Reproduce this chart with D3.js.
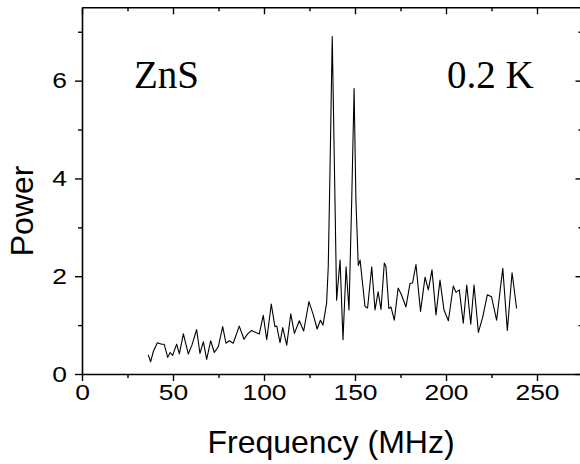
<!DOCTYPE html>
<html><head><meta charset="utf-8">
<script src="https://cdn.jsdelivr.net/npm/d3@7"></script>
<style>html,body{margin:0;padding:0;background:#fff;}svg{display:block;}</style>
</head><body>
<svg id="c" width="580" height="464"></svg>
<script>
const freq = [36.4,37.7,39.2,41.4,43.8,45.1,47.1,48.4,49.8,52.0,53.5,55.7,58.4,60.4,63.0,64.8,66.7,68.5,70.7,72.7,74.9,77.3,79.1,80.9,83.1,86.4,89.0,91.0,93.2,95.5,97.4,99.6,101.5,104.0,106.0,107.0,108.8,110.3,112.5,114.7,116.7,119.4,121.8,124.7,127.1,129.2,131.0,132.4,134.4,135.3,136.3,137.5,139.0,139.9,141.8,143.4,145.1,146.7,148.2,149.5,150.5,151.8,152.8,155.5,156.9,159.2,161.0,162.7,164.3,166.1,167.0,168.6,169.8,171.6,173.7,175.4,178.0,180.2,181.6,183.5,186.0,188.5,190.3,192.3,194.5,196.7,198.9,201.3,204.0,205.5,207.3,209.5,211.4,213.6,215.4,217.8,220.2,222.7,225.0,227.8,231.2,233.7,236.3,238.8];
const power = [0.39,0.25,0.46,0.64,0.61,0.61,0.34,0.44,0.38,0.61,0.41,0.82,0.41,0.59,0.91,0.42,0.66,0.30,0.68,0.44,0.56,0.97,0.63,0.68,0.63,0.98,0.71,0.82,0.89,0.85,0.82,1.20,0.70,1.43,0.97,0.98,0.64,0.95,0.59,1.23,0.83,1.09,0.88,1.48,1.21,0.92,1.10,1.00,1.45,2.19,4.24,6.90,3.56,1.51,2.33,0.70,2.19,1.31,3.56,5.84,3.56,2.22,2.33,1.38,1.35,2.19,1.31,1.68,1.32,2.27,2.20,1.34,1.37,1.10,1.76,1.63,1.37,1.85,1.86,2.24,1.28,1.98,1.72,2.13,1.21,1.92,1.31,1.09,1.80,1.67,1.72,1.04,1.82,1.02,1.82,0.85,1.17,1.62,1.58,1.10,2.16,0.89,2.07,1.34];
const xMajor = [0,50,100,150,200,250];
const xMinor = [25,75,125,175,225,275];
const yMajor = [0,2,4,6];
const yMinor = [1,3,5,7];
const xTitle = "Frequency (MHz)";
const yTitle = "Power";
const labelLeft = "ZnS";
const labelRight = "0.2 K";

const svg = d3.select("#c");
const L = 82, R = 582.5, T = 7.3, B = 374;
const x = d3.scaleLinear().domain([0,275]).range([L,R]);
const y = d3.scaleLinear().domain([0,7.5]).range([B,T]);

const tickFont = "'Liberation Sans', Arial, Helvetica, sans-serif";

// curve
svg.append("path").datum(freq.map((f,i)=>[f,power[i]]))
  .attr("fill","none").attr("stroke","#000").attr("stroke-width",1.1)
  .attr("stroke-linejoin","round")
  .attr("d", d3.line().x(d=>x(d[0])).y(d=>y(d[1])));

function minorLines(g){g.select(".domain").remove();g.selectAll("line").attr("stroke","#000").attr("stroke-width",1.4);}
function styleAxis(g){
  g.select(".domain").attr("stroke","#000").attr("stroke-width",1.6);
  g.selectAll(".tick line").attr("stroke","#000").attr("stroke-width",1.4);
  g.selectAll("text").attr("fill","#000").style("font-family",tickFont).style("font-size","22px");
}
// bottom
const gb = svg.append("g").attr("transform",`translate(0,${B})`);
gb.call(d3.axisBottom(x).tickValues(xMajor).tickSize(7).tickPadding(3).tickSizeOuter(0).tickFormat(d3.format("d")));
styleAxis(gb);
gb.append("g").call(d3.axisBottom(x).tickValues(xMinor).tickSize(4).tickFormat("")).call(minorLines);
gb.selectAll(".tick text").attr("transform","scale(1.2,1)");
// top
const gt = svg.append("g").attr("transform",`translate(0,${T})`);
gt.call(d3.axisBottom(x).tickValues(xMajor).tickSize(7).tickSizeOuter(0).tickFormat(""));
styleAxis(gt);
gt.append("g").call(d3.axisBottom(x).tickValues(xMinor).tickSize(4).tickFormat("")).call(minorLines);
// left
const gl = svg.append("g").attr("transform",`translate(${L},0)`);
gl.call(d3.axisLeft(y).tickValues(yMajor).tickSize(7).tickPadding(8).tickSizeOuter(0).tickFormat(d3.format("d")));
styleAxis(gl);
gl.selectAll(".tick text").attr("transform","translate(-15,0) scale(1.2,1) translate(15,0)");
gl.append("g").call(d3.axisLeft(y).tickValues(yMinor).tickSize(4).tickFormat("")).call(minorLines);
// right
const gr = svg.append("g").attr("transform",`translate(${R},0)`);
gr.call(d3.axisLeft(y).tickValues(yMajor).tickSize(7).tickSizeOuter(0).tickFormat(""));
styleAxis(gr);
gr.append("g").call(d3.axisLeft(y).tickValues(yMinor).tickSize(4).tickFormat("")).call(minorLines);

// titles
svg.append("text").attr("x",331).attr("y",453).attr("text-anchor","middle")
  .style("font-family",tickFont).style("font-size","32px").text(xTitle);
svg.append("text").attr("transform",`translate(33,211) rotate(-90)`).attr("text-anchor","middle")
  .style("font-family",tickFont).style("font-size","32px").text(yTitle);

const serif = "'Liberation Serif', 'Times New Roman', Times, serif";
svg.append("text").attr("x",134).attr("y",88).style("font-family",serif).style("font-size","39px").text(labelLeft);
svg.append("text").attr("x",447).attr("y",88).style("font-family",serif).style("font-size","39px").text(labelRight);
</script>
</body></html>
